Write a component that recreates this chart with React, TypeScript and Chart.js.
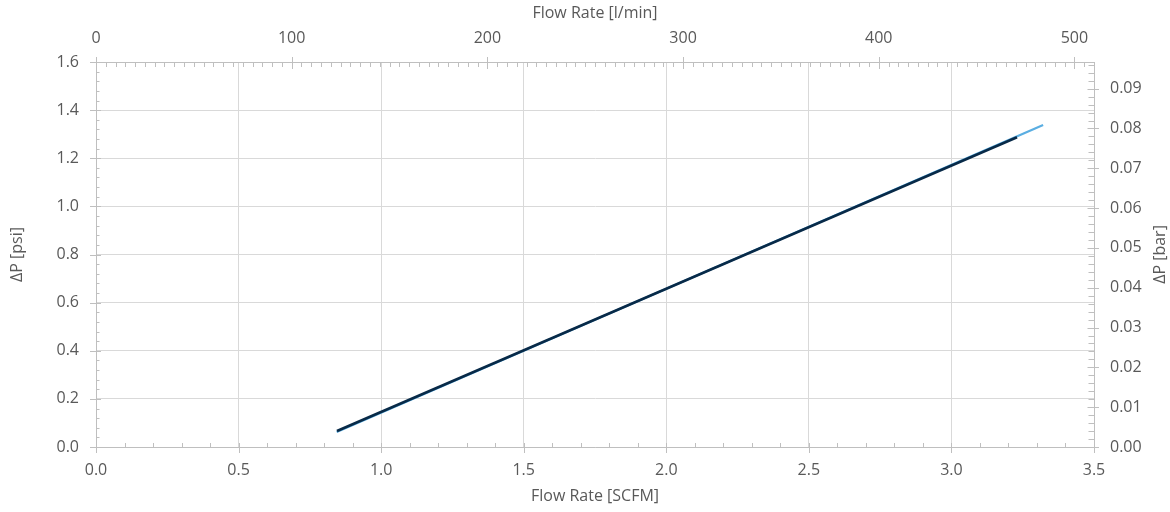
import React, { useEffect, useRef } from "react";
import { Chart, registerables } from "chart.js";

Chart.register(...registerables);

// Flow rate [SCFM] and pressure drop [psi] (imperial series, bottom/left axes)
const scfmFlow = [0.845, 3.23];
const psiDrop = [0.0665, 1.287];
// Flow rate [l/min] and pressure drop [bar] (metric series, top/right axes)
const lpmFlow = [123, 484];
const barDrop = [0.00375, 0.0809];

const scfmTickLabels = ["0.0", "0.5", "1.0", "1.5", "2.0", "2.5", "3.0", "3.5"];
const lpmTickLabels = ["0", "100", "200", "300", "400", "500"];
const psiTickLabels = ["0.0", "0.2", "0.4", "0.6", "0.8", "1.0", "1.2", "1.4", "1.6"];
const barTickLabels = ["0.00", "0.01", "0.02", "0.03", "0.04", "0.05", "0.06", "0.07", "0.08", "0.09"];

const SCFM_MAX = 3.5;
const LPM_MAX = 510;
const PSI_MAX = 1.6;
const BAR_MAX = 0.0967;

const AXIS_COLOR = "#bfbfbf";
const GRID_COLOR = "#d9d9d9";
const TEXT_COLOR = "#595959";
const FONT = "'Open Sans', 'DejaVu Sans', sans-serif";
const FS = 16;

const excelTicks = {
  id: "excelTicks",
  afterDraw(chart: any) {
    const ctx = chart.ctx as CanvasRenderingContext2D;
    const s = chart.scales;
    ctx.save();
    ctx.strokeStyle = AXIS_COLOR;
    ctx.lineWidth = 1;
    const run = (
      scale: any,
      max: number,
      minor: number,
      majorEvery: number,
      horizontal: boolean,
      edge: number,
      dirOut: number,
      majOut: number,
      majIn: number,
      minIn: number
    ) => {
      for (let i = 0; i * minor <= max + 1e-9; i++) {
        const v = i * minor;
        const p = Math.round(scale.getPixelForValue(v)) + 0.5;
        const isMajor = i % majorEvery === 0;
        const a = isMajor ? edge + dirOut * majOut : edge;
        const b = edge - dirOut * (isMajor ? majIn : minIn);
        ctx.beginPath();
        if (horizontal) {
          ctx.moveTo(p, a);
          ctx.lineTo(p, b);
        } else {
          ctx.moveTo(a, p);
          ctx.lineTo(b, p);
        }
        ctx.stroke();
      }
    };
    const { left, right, top, bottom } = chart.chartArea;
    run(s.x, SCFM_MAX, 0.1, 5, true, bottom, 1, 6, 4, 4);
    run(s.x2, LPM_MAX, 5, 20, true, top, -1, 5, 7, 5);
    run(s.y, PSI_MAX, 0.04, 5, false, left, -1, 6, 5, 3.5);
    run(s.y2, BAR_MAX, 0.002, 5, false, right, 1, 5, 6.5, 5.5);

    // right axis title (rotated like the left one)
    ctx.fillStyle = TEXT_COLOR;
    ctx.font = `${FS}px ${FONT}`;
    ctx.textAlign = "center";
    ctx.textBaseline = "middle";
    ctx.translate(1160, (top + bottom) / 2);
    ctx.rotate(-Math.PI / 2);
    ctx.fillText("ΔP [bar]", 0, 0);
    ctx.restore();
  },
};

export default function App() {
  const ref = useRef<HTMLCanvasElement | null>(null);

  useEffect(() => {
    if (!ref.current) return;
    const font = { family: FONT, size: FS };
    const chart = new Chart(ref.current, {
      type: "line",
      data: {
        datasets: [
          {
            label: "ΔP [psi]",
            data: scfmFlow.map((x, i) => ({ x, y: psiDrop[i] })),
            borderColor: "#082a48",
            borderWidth: 2.6,
            pointRadius: 0,
            xAxisID: "x",
            yAxisID: "y",
            order: 0,
          },
          {
            label: "ΔP [bar]",
            data: lpmFlow.map((x, i) => ({ x, y: barDrop[i] })),
            borderColor: "#5aaee2",
            borderWidth: 2.2,
            pointRadius: 0,
            xAxisID: "x2",
            yAxisID: "y2",
            order: 1,
          },
        ],
      },
      options: {
        responsive: false,
        animation: false,
        layout: { padding: 0 },
        plugins: {
          legend: { display: false },
          tooltip: { enabled: false },
        },
        scales: {
          x: {
            type: "linear",
            position: "bottom",
            min: 0,
            max: SCFM_MAX,
            afterFit: (sc: any) => {
              sc.height = 65;
            },
            afterBuildTicks: (sc: any) => {
              sc.ticks = scfmTickLabels.map((l) => ({ value: parseFloat(l) }));
            },
            ticks: {
              color: TEXT_COLOR,
              font,
              padding: 14,
              autoSkip: false,
              maxRotation: 0,
              callback: (v: any) => Number(v).toFixed(1),
            },
            grid: { color: GRID_COLOR, drawTicks: false },
            border: { display: true, color: AXIS_COLOR },
            title: {
              display: true,
              text: "Flow Rate [SCFM]",
              color: TEXT_COLOR,
              font,
              padding: { top: 0, bottom: 6 },
            },
          },
          x2: {
            type: "linear",
            position: "top",
            min: 0,
            max: LPM_MAX,
            afterFit: (sc: any) => {
              sc.height = 62;
            },
            afterBuildTicks: (sc: any) => {
              sc.ticks = lpmTickLabels.map((l) => ({ value: parseFloat(l) }));
            },
            ticks: {
              color: TEXT_COLOR,
              font,
              padding: 14,
              autoSkip: false,
              maxRotation: 0,
              callback: (v: any) => String(Math.round(Number(v))),
            },
            grid: { drawOnChartArea: false, drawTicks: false },
            border: { display: true, color: AXIS_COLOR },
            title: {
              display: true,
              text: "Flow Rate [l/min]",
              color: TEXT_COLOR,
              font,
              padding: { top: 4, bottom: 0 },
            },
          },
          y: {
            type: "linear",
            position: "left",
            min: 0,
            max: PSI_MAX,
            afterFit: (sc: any) => {
              sc.width = 96;
            },
            afterBuildTicks: (sc: any) => {
              sc.ticks = psiTickLabels.map((l) => ({ value: parseFloat(l) }));
            },
            ticks: {
              color: TEXT_COLOR,
              font,
              padding: 17,
              autoSkip: false,
              callback: (v: any) => Number(v).toFixed(1),
            },
            grid: { color: GRID_COLOR, drawTicks: false },
            border: { display: true, color: AXIS_COLOR },
            title: {
              display: true,
              text: "ΔP [psi]",
              color: TEXT_COLOR,
              font,
              padding: { top: 8, bottom: 0 },
            },
          },
          y2: {
            type: "linear",
            position: "right",
            min: 0,
            max: BAR_MAX,
            afterFit: (sc: any) => {
              sc.width = 76;
            },
            afterBuildTicks: (sc: any) => {
              sc.ticks = barTickLabels.map((l) => ({ value: parseFloat(l) }));
            },
            ticks: {
              color: TEXT_COLOR,
              font,
              padding: 16,
              autoSkip: false,
              callback: (v: any) => Number(v).toFixed(2),
            },
            grid: { drawOnChartArea: false, drawTicks: false },
            border: { display: true, color: AXIS_COLOR },
          },
        },
      },
      plugins: [excelTicks],
    });
    return () => chart.destroy();
  }, []);

  return (
    <div style={{ position: "fixed", left: 0, top: 0, width: 1170, height: 512, background: "#fff" }}>
      <canvas ref={ref} width={1170} height={512} style={{ width: 1170, height: 512, display: "block" }} />
    </div>
  );
}
